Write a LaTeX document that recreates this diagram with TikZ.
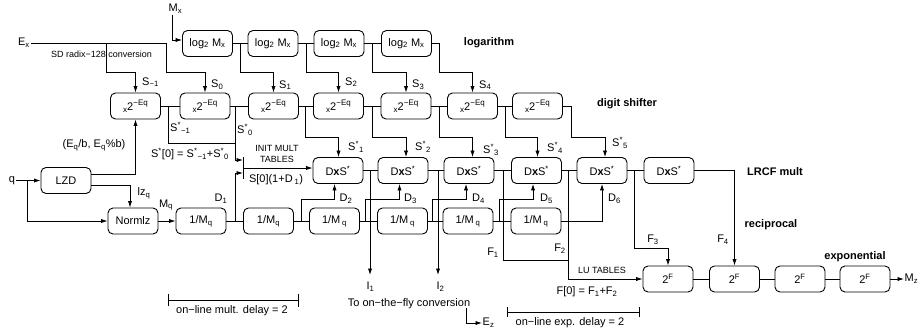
\documentclass[tikz,border=0pt]{standalone}
\usepackage{fontspec}
\setmainfont{Liberation Sans}
\usetikzlibrary{arrows.meta,calc}
\newcommand{\shtxt}{\raisebox{-0.35ex}{\fontsize{8}{8}\selectfont x}2\raisebox{0.8ex}{\fontsize{8}{8}\selectfont −Eq}}
\newcommand{\dxs}{D{\bfseries x}S\textsuperscript{*}}
\newcommand{\Ss}{S\textsuperscript{*}}
\begin{document}
\begin{tikzpicture}[x=1pt,y=-1pt,
  every node/.style={font=\fontsize{11}{13}\selectfont, inner sep=1pt},
  box/.style={draw, rounded corners=5pt, minimum width=50pt, minimum height=26pt, inner sep=0pt, line width=0.9pt},
  ln/.style={line width=0.75pt},
  arr/.style={ln, -{Latex[length=6.5pt,width=4.2pt]}},
  small/.style={font=\fontsize{9}{11}\selectfont},
  title/.style={font=\fontsize{11}{13}\selectfont\bfseries},
  lab/.style={anchor=west}
]
\useasboundingbox (0,0) rectangle (921,335);

% ---- logarithm row
\node[box] (L1) at (207.5,43.5) {log\textsubscript{2} M\textsubscript{x}};
\node[box] (L2) at (273,43.5) {log\textsubscript{2} M\textsubscript{x}};
\node[box] (L3) at (339,43.5) {log\textsubscript{2} M\textsubscript{x}};
\node[box] (L4) at (406.5,43.5) {log\textsubscript{2} M\textsubscript{x}};

% ---- digit shifter row
\node[box] (H1) at (135.5,106) {\shtxt};
\node[box] (H2) at (205,106) {\shtxt};
\node[box] (H3) at (273.5,106) {\shtxt};
\node[box] (H4) at (338.5,106) {\shtxt};
\node[box] (H5) at (406,106) {\shtxt};
\node[box] (H6) at (472.5,106) {\shtxt};
\node[box] (H7) at (537.5,106) {\shtxt};

% ---- LRCF mult row
\node[box] (P1) at (338,170.5) {\dxs};
\node[box] (P2) at (403,170.5) {\dxs};
\node[box] (P3) at (469,170.5) {\dxs};
\node[box] (P4) at (536.5,170.5) {\dxs};
\node[box] (P5) at (602,170.5) {\dxs};
\node[box] (P6) at (669,170.5) {\dxs};

% ---- reciprocal row
\node[box] (LZD) at (66,180.5) {LZD};
\node[box] (Normlz) at (133,221) {Normlz};
\node[box] (R1) at (201,221) {1/M\textsubscript{q}};
\node[box] (R2) at (268.5,221) {1/M\textsubscript{q}};
\node[box] (R3) at (334.5,221) {1/M\,\textsubscript{q}};
\node[box] (R4) at (402.5,221) {1/M\,\textsubscript{q}};
\node[box] (R5) at (468,221) {1/M\,\textsubscript{q}};
\node[box] (R6) at (536,221) {1/M\,\textsubscript{q}};

% ---- exponential row
\node[box] (E1) at (668,279) {2\textsuperscript{F}};
\node[box] (E2) at (734.5,279) {2\textsuperscript{F}};
\node[box] (E3) at (800,279) {2\textsuperscript{F}};
\node[box] (E4) at (865,279) {2\textsuperscript{F}};

% ---- inputs
\node (Mx) at (175.5,9) {M\textsubscript{x}};
\node (Ex) at (24,43) {E\textsubscript{x}};
\node (q) at (12,180.5) {q};

% ---- junction coordinates
\coordinate (jL12) at ($(L1.east)!0.5!(L2.west)$);
\coordinate (jL23) at ($(L2.east)!0.5!(L3.west)$);
\coordinate (jL34) at ($(L3.east)!0.5!(L4.west)$);
\coordinate (exa) at (106,43);
\coordinate (exb) at (166,43);
\coordinate (jH12) at (168,106);
\coordinate (jH23) at (235,106);
\coordinate (jH34) at (305,106);
\coordinate (jH45) at (372,106);
\coordinate (jH56) at (439,106);
\coordinate (jH67) at (505,106);
\coordinate (jH7) at (571,106);
\coordinate (sm1) at (235,143);
\coordinate (tbT) at (243,157);
\coordinate (tbBot) at (243,179);
\coordinate (tbA) at (243,160);
\coordinate (tbB) at (243,173);
\coordinate (tbC) at (243,168);
\coordinate (jR12) at (235,221);
\coordinate (jR23) at (301,221);
\coordinate (jR34) at (365,221);
\coordinate (jR45) at (432,221);
\coordinate (jR56) at (499,221);
\coordinate (jq) at (27,180.5);
\coordinate (jP12) at (370,170.5);
\coordinate (jP23) at (438,170.5);
\coordinate (jP34) at (503,170.5);
\coordinate (jP45) at (568,170.5);
\coordinate (jP56) at (634,170.5);
\coordinate (f1) at (568,260);

% ---- logarithm connectors
\draw[arr] (Mx.south -| 172,0) |- ([yshift=3.5pt]L1.west);
\draw[ln] (L1.east) -- (L2.west) (L2.east) -- (L3.west) (L3.east) -- (L4.west);
\draw[arr] (jL12) -- ++(0,28.5) -| (H3.north);
\draw[arr] (jL23) -- ++(0,28.5) -| (H4.north);
\draw[arr] (jL34) -- ++(0,28.5) -| (H5.north);
\draw[arr] (L4.east) -- ++(7,0) -- ++(0,28.5) -| (H6.north);
\draw[arr] (Ex.east) -- (exb) -- ++(0,29) -| (H2.north);
\draw[arr] (exa) -- ++(0,29) -| (H1.north);

% ---- shifter connectors
\draw[ln] (H1.east) -- (H2.west) (H2.east) -- (H3.west) (H3.east) -- (H4.west)
          (H4.east) -- (H5.west) (H5.east) -- (H6.west) (H6.east) -- (H7.west);
\draw[ln] (jH12) |- (sm1);
\draw[ln] (tbT) -- (tbBot);
\draw[arr] (jH23) |- (tbA);
\draw[arr] (jR12) |- (tbB);
\draw[arr] (tbC) -- (tbC -| P1.west);
\draw[arr] (jH34) -- ++(0,31) -| (P1.north -| H4);
\draw[arr] (jH45) -- ++(0,31) -| (P2.north -| H5);
\draw[arr] (jH56) -- ++(0,31) -| (P3.north -| H6);
\draw[arr] (jH67) -- ++(0,31) -| (P4.north -| H7);
\draw[arr] (H7.east) -- (jH7) -- ++(0,31) -| ([xshift=3pt]P5.north);

% ---- LZD / normalise
\draw[arr] (q.east) -- (LZD.west);
\draw[arr] (jq) |- (Normlz.west);
\draw[arr] ([yshift=6.5pt]LZD.east) -| (H1.south);
\draw[arr] ([yshift=-4.5pt]LZD.east) -| ([xshift=-3pt]Normlz.north);
\draw[arr] (Normlz.east) -- (R1.west);

% ---- reciprocal connectors
\draw[ln] (R1.east) -- (R2.west) (R2.east) -- (R3.west) (R3.east) -- (R4.west)
          (R4.east) -- (R5.west) (R5.east) -- (R6.west);
\draw[arr] (jR23) -- ++(0,-22) -| ([xshift=-3.5pt]P1.south);
\draw[arr] (jR34) -- ++(0,-22) -| ([xshift=-3.5pt]P2.south);
\draw[arr] (jR45) -- ++(0,-22) -| ([xshift=-3pt]P3.south);
\draw[arr] (jR56) -- ++(0,-22) -| ([xshift=-3.5pt]P4.south);
\draw[arr] (R6.east) -| (P5.south);

% ---- mult connectors
\draw[ln] (P1.east) -- (P2.west) (P2.east) -- (P3.west) (P3.east) -- (P4.west)
          (P4.east) -- (P5.west) (P5.east) -- (P6.west);
\draw[arr] (jP12) -- ++(0,104.5) coordinate (I1e);
\draw[arr] (jP23) -- ++(0,104.5) coordinate (I2e);
\draw[ln] (jP34) |- (f1);
\draw[arr] (jP45) |- (E1.west);
\draw[arr] (jP56) -- ++(0,77.5) -| (E1.north);
\draw[arr] (P6.east) -| (E2.north);

% ---- exponential connectors
\draw[ln] (E1.east) -- (E2.west) (E2.east) -- (E3.west) (E3.east) -- (E4.west);
\node[anchor=west, inner sep=0.5pt] (Mz) at (904,279) {M\textsubscript{z}};
\draw[arr] (E4.east) -- (Mz.west);

% ---- E_z
\coordinate (ez0) at (466,308);
\node[anchor=west, inner sep=0.5pt] (Ez) at (482,323) {E\textsubscript{z}};
\draw[arr] (ez0) |- (Ez.west);

% ---- delay bars
\coordinate (b1l) at (168,300);
\coordinate (b1r) at (298,300);
\draw[ln] (b1l) -- (b1r);
\draw[ln] ([yshift=6pt]b1l) -- ([yshift=-6pt]b1l);
\draw[ln] ([yshift=6.5pt]b1r) -- ([yshift=-6.5pt]b1r);
\coordinate (b2l) at (507,312);
\coordinate (b2r) at (639,312);
\draw[ln] (b2l) -- (b2r);
\draw[ln] ([yshift=5pt]b2l) -- ([yshift=-5pt]b2l);
\draw[ln] ([yshift=5pt]b2r) -- ([yshift=-5pt]b2r);

% ---- labels
\node[small] at (101.5,54) {SD radix−128 conversion};
\node[lab] at (141,82) {S\textsubscript{−1}};
\node[lab] at (210,85) {S\textsubscript{0}};
\node[lab] at (278,85) {S\textsubscript{1}};
\node[lab] at (344,82) {S\textsubscript{2}};
\node[lab] at (411,85) {S\textsubscript{3}};
\node[lab] at (478,85) {S\textsubscript{4}};
\node[lab] at (169,128) {\Ss\textsubscript{−1}};
\node[lab] at (236,130) {\Ss\textsubscript{0}};
\node[lab] at (347,147) {\Ss\textsubscript{1}};
\node[lab] at (414,147) {\Ss\textsubscript{2}};
\node[lab] at (482,150) {\Ss\textsubscript{3}};
\node[lab] at (546,148) {\Ss\textsubscript{4}};
\node[lab] at (611,143) {\Ss\textsubscript{5}};
\node at (94,145) {(E\textsubscript{q}/b, E\textsubscript{q}\%b)};
\node at (190,154) {\Ss[0] = \Ss\textsubscript{−1}+\Ss\textsubscript{0}};
\node[small, align=center] at (277,153.5) {INIT MULT\\TABLES};
\node at (276,180) {S[0](1+D\,\textsubscript{1})};
\node at (144,193) {lz\textsubscript{q}};
\node at (166,205) {M\textsubscript{q}};
\node at (221,199) {D\textsubscript{1}};
\node at (346,199) {D\textsubscript{2}};
\node at (410.5,199) {D\textsubscript{3}};
\node at (478.5,199) {D\textsubscript{4}};
\node at (546.5,199) {D\textsubscript{5}};
\node at (614.5,199) {D\textsubscript{6}};
\node at (370.5,287) {I\textsubscript{1}};
\node at (440.5,287) {I\textsubscript{2}};
\node at (409,304) {To on−the−fly conversion};
\node at (493,253) {F\textsubscript{1}};
\node at (560,249) {F\textsubscript{2}};
\node at (653,240) {F\textsubscript{3}};
\node at (723,240) {F\textsubscript{4}};
\node[small] at (602,270) {LU TABLES};
\node at (587,292) {F[0] = F\textsubscript{1}+F\textsubscript{2}};
\node at (232,311) {on−line mult. delay = 2};
\node at (570,323) {on−line exp. delay = 2};
\node[title] at (489,43) {logarithm};
\node[title] at (627,104) {digit shifter};
\node[title] at (775,172) {LRCF mult};
\node[title] at (771,225) {reciprocal};
\node[title] at (855,257) {exponential};
\end{tikzpicture}
\end{document}
